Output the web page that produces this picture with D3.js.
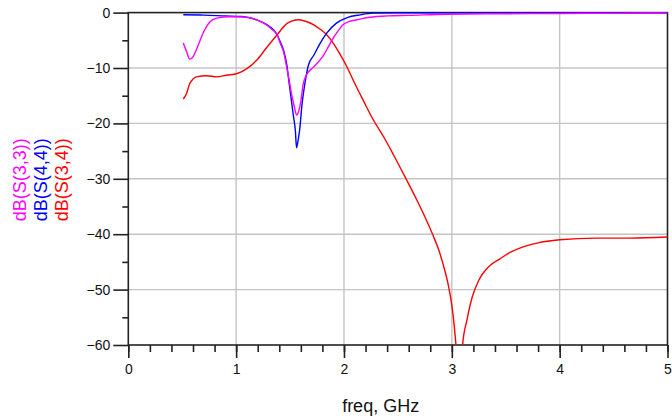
<!DOCTYPE html>
<html>
<head>
<meta charset="utf-8">
<script src="https://cdn.jsdelivr.net/npm/d3@7"></script>
<style>
  body { margin: 0; background: #fff; }
  svg { display: block; font-family: "Liberation Sans", Arial, sans-serif; }
</style>
</head>
<body>
<div id="chart"></div>
<script>
// S(3,3) magnitude, dB
var s33Freq = [0.51, 0.54, 0.57, 0.60, 0.62, 0.65, 0.70, 0.76, 0.82, 0.94, 1.07, 1.19, 1.28, 1.33, 1.38, 1.41, 1.44, 1.47, 1.49, 1.51, 1.54, 1.56, 1.58, 1.60, 1.62, 1.65, 1.72, 1.81, 1.86, 1.90, 1.95, 1.99, 2.05, 2.12, 2.24, 2.40, 2.60, 2.95, 3.5, 4.0, 4.5, 5.0];
var s33dB   = [-5.5, -7.0, -8.4, -8.0, -7.2, -5.8, -3.4, -1.6, -1.0, -0.75, -0.8, -1.3, -2.2, -3.0, -4.0, -5.6, -7.1, -10.0, -12.0, -14.3, -17.0, -18.5, -17.8, -16.0, -13.1, -11.3, -9.8, -7.7, -6.0, -4.6, -3.2, -2.2, -1.6, -1.3, -0.85, -0.6, -0.5, -0.3, -0.2, -0.15, -0.1, -0.05];

// S(4,4)
var s44Freq = [0.51, 0.70, 0.90, 1.05, 1.12, 1.19, 1.25, 1.31, 1.38, 1.41, 1.44, 1.47, 1.49, 1.51, 1.53, 1.55, 1.56, 1.575, 1.59, 1.61, 1.64, 1.67, 1.72, 1.78, 1.84, 1.93, 2.03, 2.15, 2.27, 2.5, 5.0];
var s44dB   = [-0.4, -0.45, -0.6, -0.7, -0.9, -1.3, -1.8, -2.5, -4.0, -5.3, -6.8, -9.5, -12.5, -15.5, -18.5, -21.5, -24.4, -23.0, -21.0, -16.7, -12.5, -9.5, -7.7, -5.5, -3.7, -1.9, -0.9, -0.4, -0.1, -0.05, -0.05];

// S(3,4)
var s34Freq = [0.51, 0.54, 0.57, 0.60, 0.63, 0.73, 0.82, 0.91, 1.01, 1.10, 1.19, 1.28, 1.38, 1.47, 1.52, 1.58, 1.65, 1.72, 1.78, 1.84, 1.90, 1.96, 2.02, 2.09, 2.18, 2.27, 2.37, 2.46, 2.57, 2.68, 2.77, 2.83, 2.88, 2.92, 2.96, 3.00, 3.02, 3.04, 3.06, 3.08, 3.10, 3.14, 3.19, 3.25, 3.34, 3.45, 3.54, 3.63, 3.79, 4.00, 4.34, 4.65, 5.00];
var s34dB   = [-15.6, -14.6, -12.8, -12.0, -11.6, -11.4, -11.6, -11.3, -11.0, -10.1, -8.6, -6.4, -4.0, -2.0, -1.5, -1.3, -1.6, -2.2, -3.0, -4.0, -5.5, -7.4, -9.5, -12.4, -15.9, -19.3, -22.5, -25.7, -29.8, -34.0, -37.7, -40.4, -42.9, -45.5, -48.5, -52.8, -56.1, -60.5, -68, -66, -60, -55.5, -51.3, -48.3, -45.9, -44.4, -43.3, -42.5, -41.6, -41.0, -40.7, -40.7, -40.5];

var xTicks = [0, 1, 2, 3, 4, 5];
var yTicks = [0, -10, -20, -30, -40, -50, -60];

var width = 672, height = 419;
var margin = {top: 12.6, right: 4.5, bottom: 74, left: 128.3};

var svg = d3.select("#chart").append("svg")
    .attr("width", width)
    .attr("height", height);

var x = d3.scaleLinear().domain([0, 5]).range([margin.left, width - margin.right]);
var y = d3.scaleLinear().domain([-60, 0]).range([height - margin.bottom, margin.top]);

//grid lines
svg.append("g").selectAll("line.vgrid")
    .data(xTicks.slice(1, -1))
    .enter().append("line")
    .attr("x1", function(d){ return x(d); })
    .attr("x2", function(d){ return x(d); })
    .attr("y1", y(0)).attr("y2", y(-60))
    .attr("stroke", "#c4c4c4").attr("stroke-width", 1.4);

svg.append("g").selectAll("line.hgrid")
    .data(yTicks.slice(1, -1))
    .enter().append("line")
    .attr("x1", x(0)).attr("x2", x(5))
    .attr("y1", function(d){ return y(d); })
    .attr("y2", function(d){ return y(d); })
    .attr("stroke", "#c4c4c4").attr("stroke-width", 1.4);

//axes
var xAxis = d3.axisBottom(x).tickValues(xTicks).tickSize(13).tickPadding(6).tickFormat(d3.format("d"));
var xMinor = d3.axisBottom(x).tickValues(d3.range(0, 5.001, 0.2)).tickSize(7).tickFormat("");
var yAxis = d3.axisLeft(y).tickValues(yTicks).tickSize(15).tickPadding(3).tickFormat(d3.format("d"));
var yMinor = d3.axisLeft(y).tickValues(d3.range(-55, 0, 10)).tickSize(6).tickFormat("");

function styleAxis(g){
    g.select(".domain").remove();
    g.selectAll("line").attr("stroke", "#222").attr("stroke-width", 1.6);
    g.selectAll("text").attr("fill", "#111").style("font-size", "14px");
}

svg.append("g").attr("transform", "translate(0," + y(-60) + ")").call(xMinor).call(styleAxis);
svg.append("g").attr("transform", "translate(0," + y(-60) + ")").call(xAxis).call(styleAxis);
svg.append("g").attr("transform", "translate(" + x(0) + ",0)").call(yMinor).call(styleAxis);
svg.append("g").attr("transform", "translate(" + x(0) + ",0)").call(yAxis).call(styleAxis);

//frame
svg.append("rect")
    .attr("x", x(0)).attr("y", y(0))
    .attr("width", x(5) - x(0)).attr("height", y(-60) - y(0))
    .attr("fill", "none").attr("stroke", "#222").attr("stroke-width", 1.6);

//curves
svg.append("clipPath").attr("id", "plotclip")
    .append("rect")
    .attr("x", x(0)).attr("y", y(0) - 3)
    .attr("width", x(5) - x(0) + 2).attr("height", y(-60) - y(0) + 3);

var line = d3.line()
    .x(function(d){ return x(d[0]); })
    .y(function(d){ return y(d[1]); })
    .curve(d3.curveMonotoneX);

var series = [
    {freq: s34Freq, db: s34dB, color: "#ff0000"},
    {freq: s44Freq, db: s44dB, color: "#0000ff"},
    {freq: s33Freq, db: s33dB, color: "#ff00ff"}
];

svg.append("g").attr("clip-path", "url(#plotclip)")
    .selectAll("path")
    .data(series)
    .enter().append("path")
    .attr("d", function(s){ return line(d3.zip(s.freq, s.db)); })
    .attr("fill", "none")
    .attr("stroke", function(s){ return s.color; })
    .attr("stroke-width", 1.4);

//labels
svg.append("text")
    .attr("x", x(2.34)).attr("y", 412)
    .attr("text-anchor", "middle")
    .style("font-size", "18px")
    .attr("fill", "#111")
    .text("freq, GHz");

var yLabels = [
    {text: "dB(S(3,3))", color: "#ff00ff", x: 26},
    {text: "dB(S(4,4))", color: "#0000ff", x: 47},
    {text: "dB(S(3,4))", color: "#ff0000", x: 67.5}
];

svg.selectAll("text.ylab")
    .data(yLabels)
    .enter().append("text")
    .attr("class", "ylab")
    .attr("transform", function(d){ return "translate(" + d.x + "," + (y(-30) + 1) + ") rotate(-90)"; })
    .attr("text-anchor", "middle")
    .style("font-size", "18px")
    .attr("fill", function(d){ return d.color; })
    .text(function(d){ return d.text; });
</script>
</body>
</html>
